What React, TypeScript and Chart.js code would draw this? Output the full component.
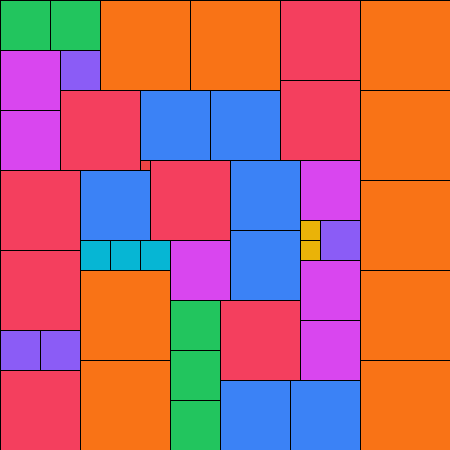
import React, { useEffect, useRef } from "react";
import { Chart, registerables } from "chart.js";

Chart.register(...registerables);

// Square packing data (data units on a 0..450 grid)
const squareX = [0, 50, 100, 190, 280, 360, 0, 60, 280, 360, 60, 140, 210, 0, 140, 150, 230, 300, 0, 80, 360, 300, 320, 230, 300, 80, 110, 140, 170, 0, 300, 80, 360, 170, 220, 300, 0, 40, 170, 80, 360, 0, 220, 290, 170];
const squareY = [0, 0, 0, 0, 0, 0, 50, 50, 80, 90, 90, 90, 90, 110, 160, 160, 160, 160, 170, 170, 180, 220, 220, 230, 240, 240, 240, 240, 240, 250, 260, 270, 270, 300, 300, 320, 330, 330, 350, 360, 360, 370, 380, 380, 400];
const squareSize = [50, 50, 90, 90, 80, 90, 60, 40, 80, 90, 80, 70, 70, 60, 10, 80, 70, 60, 80, 70, 90, 20, 40, 70, 20, 30, 30, 30, 60, 80, 60, 90, 90, 50, 80, 60, 40, 40, 50, 90, 90, 80, 70, 70, 50];

const sizeColors: Record<number, string> = {
  10: "#ef4444",
  20: "#eab308",
  30: "#06b6d4",
  40: "#8b5cf6",
  50: "#22c55e",
  60: "#d946ef",
  70: "#3b82f6",
  80: "#f43f5e",
  90: "#f97316",
};

const rectPlugin = {
  id: "squares",
  afterDatasetsDraw(chart: any) {
    const ctx = chart.ctx;
    const xs = chart.scales.x;
    const ys = chart.scales.y;
    const data = chart.data.datasets[0].data as any[];
    ctx.save();
    data.forEach((d: any) => {
      const x0 = Math.round(xs.getPixelForValue(d.x0));
      const x1 = Math.round(xs.getPixelForValue(d.x0 + d.s));
      const y0 = Math.round(ys.getPixelForValue(d.y0));
      const y1 = Math.round(ys.getPixelForValue(d.y0 + d.s));
      ctx.fillStyle = sizeColors[d.s];
      ctx.fillRect(x0, y0, x1 - x0, y1 - y0);
      ctx.strokeStyle = "#000000";
      ctx.lineWidth = 1;
      ctx.strokeRect(x0 + 0.5, y0 + 0.5, x1 - x0, y1 - y0);
    });
    ctx.restore();
  },
};

export default function App() {
  const ref = useRef<HTMLCanvasElement | null>(null);
  useEffect(() => {
    if (!ref.current) return;
    const points = squareX.map((x, i) => ({
      x: x + squareSize[i] / 2,
      y: squareY[i] + squareSize[i] / 2,
      x0: x,
      y0: squareY[i],
      s: squareSize[i],
    }));
    const chart = new Chart(ref.current, {
      type: "scatter",
      data: {
        datasets: [
          {
            data: points,
            pointRadius: 0,
            pointHoverRadius: 0,
          },
        ],
      },
      options: {
        animation: false,
        responsive: false,
        maintainAspectRatio: false,
        layout: { padding: 0 },
        plugins: { legend: { display: false }, tooltip: { enabled: false } },
        scales: {
          x: { type: "linear", min: 0, max: 450, display: false },
          y: { type: "linear", min: 0, max: 450, reverse: true, display: false },
        },
      },
      plugins: [rectPlugin],
    });
    return () => chart.destroy();
  }, []);
  return (
    <div style={{ position: "fixed", left: 0, top: 0, width: 450, height: 450, background: "#fff" }}>
      <canvas ref={ref} width={450} height={450} />
    </div>
  );
}
